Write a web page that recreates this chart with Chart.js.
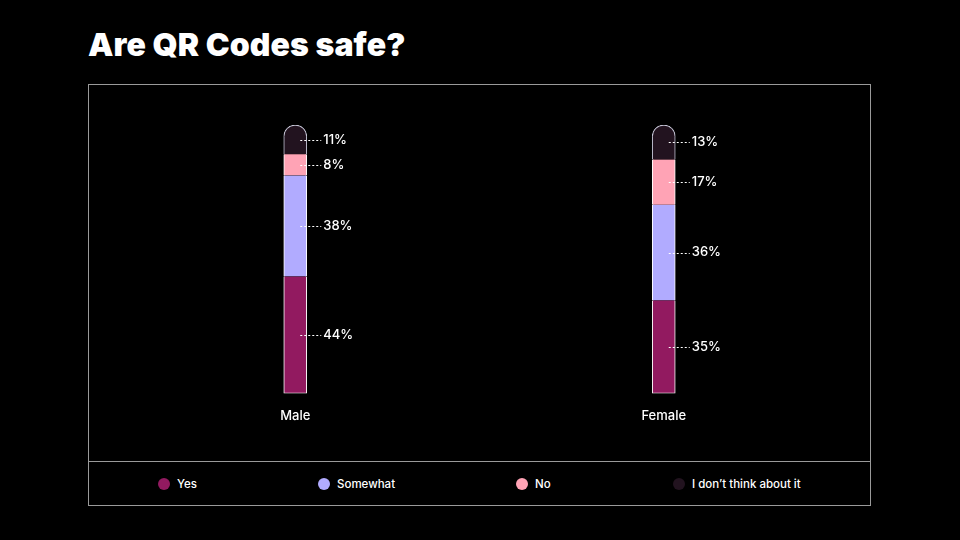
<!DOCTYPE html>
<html>
<head>
<meta charset="utf-8">
<script src="https://cdn.jsdelivr.net/npm/chart.js@4"></script>
<style>
  html,body{margin:0;padding:0;background:#000;}
  body{width:960px;height:540px;position:relative;overflow:hidden;font-family:Inter,"Noto Sans",sans-serif;}
  #title{position:absolute;left:88px;top:29px;margin:0;font-size:32px;line-height:32px;font-weight:900;color:#fff;letter-spacing:0.1px;}
  #box{position:absolute;left:88px;top:84px;width:781px;height:420px;border:1px solid #9a9a9a;}
  #wrap{position:absolute;left:0;top:0;width:781px;height:376px;}
  #legend{position:absolute;left:0;top:376px;width:781px;height:44px;border-top:1px solid #9a9a9a;}
  .item{position:absolute;top:0;height:43px;display:flex;align-items:center;color:#fff;font-size:11.5px;font-weight:500;}
  .dot{width:12px;height:12px;border-radius:50%;margin-right:7px;}
</style>
</head>
<body>
<h1 id="title">Are QR Codes safe?</h1>
<div id="box">
  <div id="wrap"><canvas id="qrChart"></canvas></div>
  <div id="legend"></div>
</div>
<script>
// categories and series (percent)
const groups = ['Male', 'Female'];
const seriesNames = ['Yes', 'Somewhat', 'No', "I don\u2019t think about it"];
const yesVals = [44, 35];
const somewhatVals = [38, 36];
const noVals = [8, 17];
const dontVals = [11, 13];
const colors = ['#921A60', '#B1ABFF', '#FFA3B5', '#22131F'];
const legendLeft = [69, 229, 427, 584];

const valueLabels = {
  id: 'valueLabels',
  afterDatasetsDraw(chart){
    const ctx = chart.ctx;
    ctx.save();
    chart.data.datasets.forEach((ds, i)=>{
      chart.getDatasetMeta(i).data.forEach((bar, j)=>{
        const y = (bar.y + bar.base) / 2;
        ctx.strokeStyle = '#fff';
        ctx.lineWidth = 1;
        ctx.setLineDash([2, 2]);
        ctx.beginPath();
        ctx.moveTo(bar.x + 5, Math.round(y) + 0.5);
        ctx.lineTo(bar.x + 26, Math.round(y) + 0.5);
        ctx.stroke();
        ctx.setLineDash([]);
        ctx.fillStyle = '#fff';
        ctx.font = '500 13px Inter, sans-serif';
        ctx.textBaseline = 'middle';
        ctx.textAlign = 'left';
        ctx.fillText(ds.data[j] + '%', bar.x + 28, y);
      });
    });
    ctx.restore();
  }
};

const sideBorder = {left: 1, right: 1, top: 0, bottom: 0};
const datasets = [
  {label: seriesNames[0], data: yesVals, backgroundColor: colors[0], borderColor: '#fff', borderWidth: {left:1, right:1, top:0, bottom:1}, borderSkipped: false},
  {label: seriesNames[1], data: somewhatVals, backgroundColor: colors[1], borderColor: '#fff', borderWidth: sideBorder, borderSkipped: false},
  {label: seriesNames[2], data: noVals, backgroundColor: colors[2], borderColor: '#fff', borderWidth: sideBorder, borderSkipped: false},
  {label: seriesNames[3], data: dontVals, backgroundColor: colors[3], borderColor: '#c4c4d4', borderWidth: {left:1, right:1, top:1, bottom:0}, borderSkipped: false, borderRadius: {topLeft: 12, topRight: 12}}
];

const ctx = document.getElementById('qrChart').getContext('2d');
new Chart(ctx, {
  type: 'bar',
  data: {labels: groups, datasets},
  options: {
    responsive: true,
    maintainAspectRatio: false,
    animation: false,
    barThickness: 23,
    layout: {padding: {top: 40, bottom: 30, left: 22, right: 22}},
    plugins: {legend: {display: false}, tooltip: {enabled: false}},
    scales: {
      x: {stacked: true, grid: {display: false}, border: {display: false},
          ticks: {color: '#fff', padding: 7, font: {family: 'Inter', size: 13, weight: '500'}}},
      y: {stacked: true, display: false, min: 0, max: 101}
    }
  },
  plugins: [valueLabels]
});

// legend row
const legend = document.getElementById('legend');
seriesNames.forEach((name, i)=>{
  const item = document.createElement('div');
  item.className = 'item';
  item.style.left = legendLeft[i] + 'px';
  item.innerHTML = '<span class="dot" style="background:' + colors[i] + '"></span>' + name;
  legend.appendChild(item);
});
</script>
</body>
</html>
